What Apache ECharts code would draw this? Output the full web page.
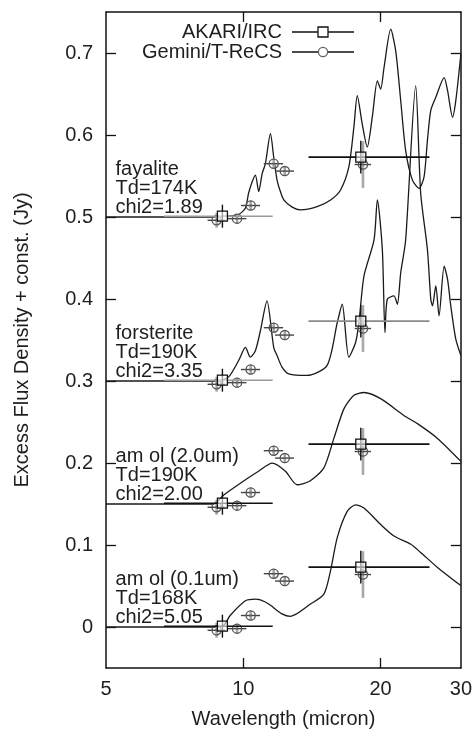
<!DOCTYPE html>
<html><head><meta charset="utf-8">
<script src="https://cdn.jsdelivr.net/npm/echarts@6/dist/echarts.min.js"></script>
<style>html,body{margin:0;background:#fff}#c{width:475px;height:734px}</style>
</head><body><div id="c"></div>
<script>
// ---------- data ----------
const xTicks = [5, 10, 20, 30];
const yTicks = [0, 0.1, 0.2, 0.3, 0.4, 0.5, 0.6, 0.7];
const yTickLabels = ['0', '0.1', '0.2', '0.3', '0.4', '0.5', '0.6', '0.7'];
const panelOffsets = [0.5, 0.3, 0.15, 0];
const panelLabels = [
  'fayalite\nTd=174K\nchi2=1.89',
  'forsterite\nTd=190K\nchi2=3.35',
  'am ol (2.0um)\nTd=190K\nchi2=2.00',
  'am ol (0.1um)\nTd=168K\nchi2=5.05'
];
// model curves (relative to panel offset)
const fayX = [5, 8.5, 9.3, 9.77, 10.11, 10.27, 10.46, 10.63, 10.81, 11.0, 11.18, 11.47, 11.66, 11.86, 12.06, 12.27, 12.8, 13.35, 14.52, 15.54, 16.34, 17.04, 17.48, 17.78, 18.23, 18.7, 19.18, 19.68, 20.01, 20.35, 21.05, 21.59, 22.14, 22.7, 23.49, 24.29, 24.91, 25.34, 25.77, 26.43, 27.57, 28.05, 28.76, 29.24, 30];
const fayY = [0, 0, 0.001, 0.003, 0.011, 0.029, 0.043, 0.051, 0.031, 0.053, 0.065, 0.1016, 0.073, 0.045, 0.031, 0.021, 0.012, 0.0087, 0.0127, 0.0208, 0.033, 0.061, 0.1096, 0.148, 0.1137, 0.0854, 0.1217, 0.166, 0.156, 0.182, 0.229, 0.2025, 0.142, 0.081, 0.045, 0.035, 0.049, 0.0935, 0.13, 0.146, 0.170, 0.154, 0.1217, 0.142, 0.1985];
const forX = [5, 8.8, 9.29, 9.77, 10.11, 10.36, 10.63, 10.9, 11.27, 11.66, 11.86, 12.16, 12.58, 13.8, 15.27, 16.07, 16.48, 17.04, 17.63, 17.93, 18.39, 19.35, 19.68, 20.18, 20.45, 20.69, 21.4, 21.77, 22.14, 22.7, 23.88, 24.49, 25.34, 25.77, 25.99, 26.43, 26.87, 27.57, 28.05, 28.51, 29.24, 30];
const forY = [0, 0, 0.005, 0.025, 0.041, 0.029, 0.037, 0.061, 0.0976, 0.041, 0.031, 0.017, 0.0088, 0.0068, 0.019, 0.071, 0.0936, 0.029, 0.047, 0.0715, 0.128, 0.172, 0.221, 0.160, 0.059, 0.0997, 0.1037, 0.0936, 0.132, 0.172, 0.36, 0.229, 0.160, 0.0997, 0.0916, 0.116, 0.0795, 0.14, 0.124, 0.0916, 0.051, 0.031];
const am20X = [5, 8.6, 9.06, 10.11, 10.8, 11.57, 12.37, 13.12, 14.0, 15.02, 15.8, 16.62, 17.48, 18.39, 20.01, 22.5, 24.09, 26.66, 30];
const am20Y = [0, 0, 0.011, 0.0296, 0.04, 0.0498, 0.04, 0.0235, 0.028, 0.044, 0.08, 0.116, 0.1325, 0.136, 0.1285, 0.108, 0.098, 0.080, 0.052];
const am01X = [5, 8.7, 9.06, 9.36, 10.11, 10.63, 10.9, 11.37, 12.16, 12.69, 14.04, 15.02, 15.54, 16.07, 16.9, 17.63, 18.39, 20.01, 21.4, 23.3, 24.49, 26.66, 30];
const am01Y = [0, 0, 0.002, 0.014, 0.032, 0.034, 0.033, 0.028, 0.016, 0.013, 0.028, 0.040, 0.069, 0.109, 0.141, 0.149, 0.145, 0.125, 0.111, 0.1009, 0.0908, 0.0727, 0.0505];
// photometry (relative to panel offset)
const akariX = [9.0, 18.1];
const akariY = [0.001, 0.073];
const akariXLo = [6.7, 13.9];
const akariXHi = [11.6, 25.6];
const akariYErr = [0.014, 0.02];
const geminiX = [8.74, 9.69, 10.38, 11.66, 12.33, 18.30];
const geminiY = [-0.004, -0.002, 0.014, 0.065, 0.056, 0.064];
const geminiXLo = [8.35, 9.22, 9.88, 11.09, 11.74, 17.55];
const geminiXHi = [9.13, 10.16, 10.88, 12.23, 12.92, 19.06];
const geminiYErr = [0.009, 0.006, 0.006, 0.006, 0.006, 0.0285];

// ---------- styles ----------
const FONT = 'Liberation Sans';
const TXT = '#1e1e1e';
const akariBarColors = [['#9a9a9a', '#111'], ['#9a9a9a', '#8a8a8a'], ['#111', '#111'], ['#111', '#111']];

const curves = [[fayX, fayY], [forX, forY], [am20X, am20Y], [am01X, am01Y]];

function errSeries(xs, ys, lo, hi, err, off, kind, hColors) {
  return {
    type: 'custom', xAxisIndex: 0, yAxisIndex: 0, z: kind === 'sq' ? 6 : 5,
    encode: { x: 0, y: 1 },
    data: xs.map((x, i) => [x, ys[i] + off, lo[i], hi[i], err[i], i]),
    renderItem: function (params, api) {
      const x = api.value(0), y = api.value(1), i = api.value(5);
      const c = api.coord([x, y]);
      const l = api.coord([api.value(2), y]);
      const r = api.coord([api.value(3), y]);
      const t = api.coord([x, y + api.value(4)]);
      const b = api.coord([x, y - api.value(4)]);
      const children = [];
      if (kind === 'sq') {
        children.push({ type: 'line', shape: { x1: l[0], y1: l[1], x2: r[0], y2: r[1] }, style: { stroke: hColors[i], lineWidth: 1.6 } });
        children.push({ type: 'line', shape: { x1: t[0], y1: t[1], x2: b[0], y2: b[1] }, style: { stroke: '#111', lineWidth: 1.4 } });
        children.push({ type: 'rect', shape: { x: c[0] - 5, y: c[1] - 5, width: 10, height: 10 }, style: { fill: 'rgba(255,255,255,0.6)', stroke: '#111', lineWidth: 1.3 } });
      } else {
        children.push({ type: 'line', shape: { x1: t[0], y1: t[1], x2: b[0], y2: b[1] }, style: { stroke: '#a8a8a8', lineWidth: 2.6 } });
        children.push({ type: 'line', shape: { x1: l[0], y1: l[1], x2: r[0], y2: r[1] }, style: { stroke: '#444', lineWidth: 1.4 } });
        children.push({ type: 'circle', shape: { cx: c[0], cy: c[1], r: 4.6 }, style: { fill: 'none', stroke: '#555', lineWidth: 1.3 } });
        children.push({ type: 'circle', shape: { cx: c[0], cy: c[1], r: 1.1 }, style: { fill: '#666' } });
      }
      return { type: 'group', children: children };
    }
  };
}

const series = [];
curves.forEach((cv, k) => {
  series.push({
    type: 'line', xAxisIndex: 0, yAxisIndex: 0, showSymbol: false, smooth: 0.25, z: 4,
    lineStyle: { color: '#1a1a1a', width: 1.3 },
    data: cv[0].map((x, i) => [x, cv[1][i] + panelOffsets[k]])
  });
});
panelOffsets.forEach((off, k) => {
  series.push(errSeries(geminiX, geminiY, geminiXLo, geminiXHi, geminiYErr, off, 'ci', null));
  series.push(errSeries(akariX, akariY, akariXLo, akariXHi, akariYErr, off, 'sq', akariBarColors[k]));
});
series.push({
  type: 'scatter', xAxisIndex: 0, yAxisIndex: 0, symbolSize: 1, z: 7,
  itemStyle: { opacity: 0 },
  data: panelOffsets.map((off, k) => [5.26, off, panelLabels[k]]),
  label: {
    show: true, position: [0, 0], align: 'left', verticalAlign: 'bottom', opacity: 1,
    formatter: p => p.data[2], fontFamily: FONT, fontSize: 20, lineHeight: 19, color: TXT
  }
});

const axisLine = { show: true, onZero: false, lineStyle: { color: '#111', width: 1.5 } };
const tickStyle = { color: '#111', width: 1.3 };

const option = {
  animation: false,
  backgroundColor: '#fff',
  grid: { left: 106, right: 14, top: 12, bottom: 63 },
  xAxis: [
    {
      type: 'log', logBase: 10, min: 5, max: 30, position: 'bottom',
      axisLine: axisLine,
      axisTick: { show: true, inside: true, length: 10, customValues: [10, 20], lineStyle: tickStyle },
      axisLabel: { customValues: xTicks, fontFamily: FONT, fontSize: 20, color: TXT, margin: 11 },
      splitLine: { show: false }, minorTick: { show: false }, minorSplitLine: { show: false },
      name: 'Wavelength (micron)', nameLocation: 'middle', nameGap: 41,
      nameTextStyle: { fontFamily: FONT, fontSize: 20, color: TXT }
    },
    {
      type: 'log', logBase: 10, min: 5, max: 30, position: 'top',
      axisLine: axisLine,
      axisTick: { show: true, inside: true, length: 10, customValues: [10, 20], lineStyle: tickStyle },
      axisLabel: { show: false }, splitLine: { show: false }
    }
  ],
  yAxis: [
    {
      type: 'value', min: -0.05, max: 0.75, position: 'left',
      axisLine: axisLine,
      axisTick: { show: true, inside: true, length: 10, customValues: yTicks, lineStyle: tickStyle },
      axisLabel: {
        customValues: yTicks, fontFamily: FONT, fontSize: 20, color: TXT, margin: 13,
        formatter: v => { const i = yTicks.findIndex(t => Math.abs(t - v) < 1e-9); return i >= 0 ? yTickLabels[i] : ''; }
      },
      splitLine: { show: false },
      name: 'Excess Flux Density + const. (Jy)', nameLocation: 'middle', nameGap: 74, nameRotate: 90,
      nameTextStyle: { fontFamily: FONT, fontSize: 20, color: TXT }
    },
    {
      type: 'value', min: -0.05, max: 0.75, position: 'right',
      axisLine: axisLine,
      axisTick: { show: true, inside: true, length: 10, customValues: yTicks, lineStyle: tickStyle },
      axisLabel: { show: false }, splitLine: { show: false }
    }
  ],
  graphic: [
    { type: 'text', z: 10, style: { text: 'AKARI/IRC', x: 282, y: 32, align: 'right', verticalAlign: 'middle', fontFamily: FONT, fontSize: 20, fill: TXT } },
    { type: 'text', z: 10, style: { text: 'Gemini/T-ReCS', x: 282, y: 52, align: 'right', verticalAlign: 'middle', fontFamily: FONT, fontSize: 20, fill: TXT } },
    { type: 'line', z: 10, shape: { x1: 292, y1: 32, x2: 354, y2: 32 }, style: { stroke: '#111', lineWidth: 1.5 } },
    { type: 'rect', z: 11, shape: { x: 318, y: 27, width: 10, height: 10 }, style: { fill: '#fff', stroke: '#111', lineWidth: 1.3 } },
    { type: 'line', z: 10, shape: { x1: 292, y1: 52, x2: 354, y2: 52 }, style: { stroke: '#111', lineWidth: 1.5 } },
    { type: 'circle', z: 11, shape: { cx: 323, cy: 52, r: 4.6 }, style: { fill: '#fff', stroke: '#666', lineWidth: 1.3 } }
  ],
  series: series
};

const chart = echarts.init(document.getElementById('c'), null, { renderer: 'canvas' });
chart.setOption(option);
</script>
</body></html>
